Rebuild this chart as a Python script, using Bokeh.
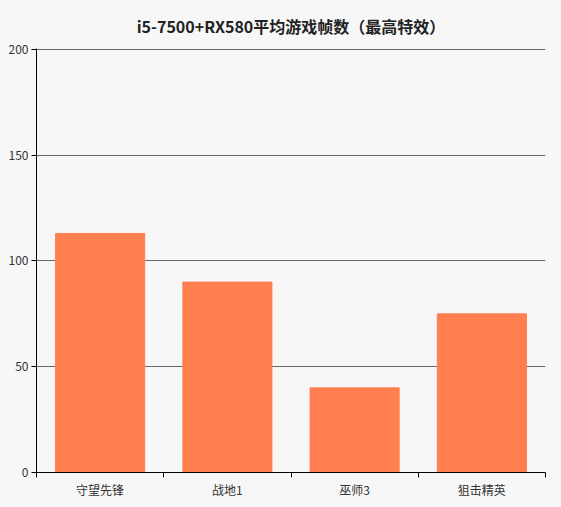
from bokeh.plotting import figure
from bokeh.models import ColumnDataSource, FixedTicker
from bokeh.embed import file_html
from bokeh.resources import INLINE

games = ["守望先锋", "战地1", "巫师3", "狙击精英"]
fps = [113, 90, 40, 75]
y_ticks = [0, 50, 100, 150, 200]
chart_title = "i5-7500+RX580平均游戏帧数（最高特效）"

FONT = "Noto Sans CJK SC"
BG = "#f7f7f7"

x_pos = list(range(1, len(games) + 1))
ds = ColumnDataSource(dict(x=x_pos, fps=fps, name=games))

p = figure(frame_width=509, frame_height=424, x_range=(0.5, len(games) + 0.5), y_range=(0, 200.4),
           title=chart_title, output_backend="svg", toolbar_location=None,
           min_border_left=36, min_border_right=5, min_border_top=47, min_border_bottom=20)
p.background_fill_color = BG
p.border_fill_color = BG
p.outline_line_color = None

p.title.align = "center"
p.title.text_font = FONT
p.title.text_font_size = "16px"
p.title.text_font_style = "bold"
p.title.text_color = "#222222"
p.title.standoff = 22

p.vbar(x="x", top="fps", width=0.7, color="#ff7f50", source=ds)

# x axis: labels at centres, small ticks at the category boundaries
p.xaxis.ticker = FixedTicker(ticks=x_pos, minor_ticks=[i + 0.5 for i in range(len(games) + 1)])
p.xaxis.major_label_overrides = {i: g for i, g in zip(x_pos, games)}
p.xaxis.major_tick_in = 0
p.xaxis.major_tick_out = 0
p.xaxis.major_label_standoff = 3
p.xaxis.minor_tick_in = 0
p.xaxis.minor_tick_out = 5
p.xaxis.minor_tick_line_color = "#000000"
p.xaxis.axis_line_color = "#000000"
p.xgrid.grid_line_color = None

p.yaxis.ticker = FixedTicker(ticks=y_ticks)
p.yaxis.major_tick_in = 0
p.yaxis.major_tick_out = 5
p.yaxis.major_label_standoff = 3
p.yaxis.minor_tick_line_color = None
p.yaxis.axis_line_color = "#000000"
p.ygrid.grid_line_color = "#666666"

for ax in (p.xaxis, p.yaxis):
    ax.major_label_text_font = FONT
    ax.major_label_text_font_size = "12px"
    ax.major_label_text_color = "#333333"

html = file_html(p, INLINE)
html = html.replace("</head>", "<style>html, body { background: %s; }</style></head>" % BG, 1)
open("out.html", "w").write(html)
